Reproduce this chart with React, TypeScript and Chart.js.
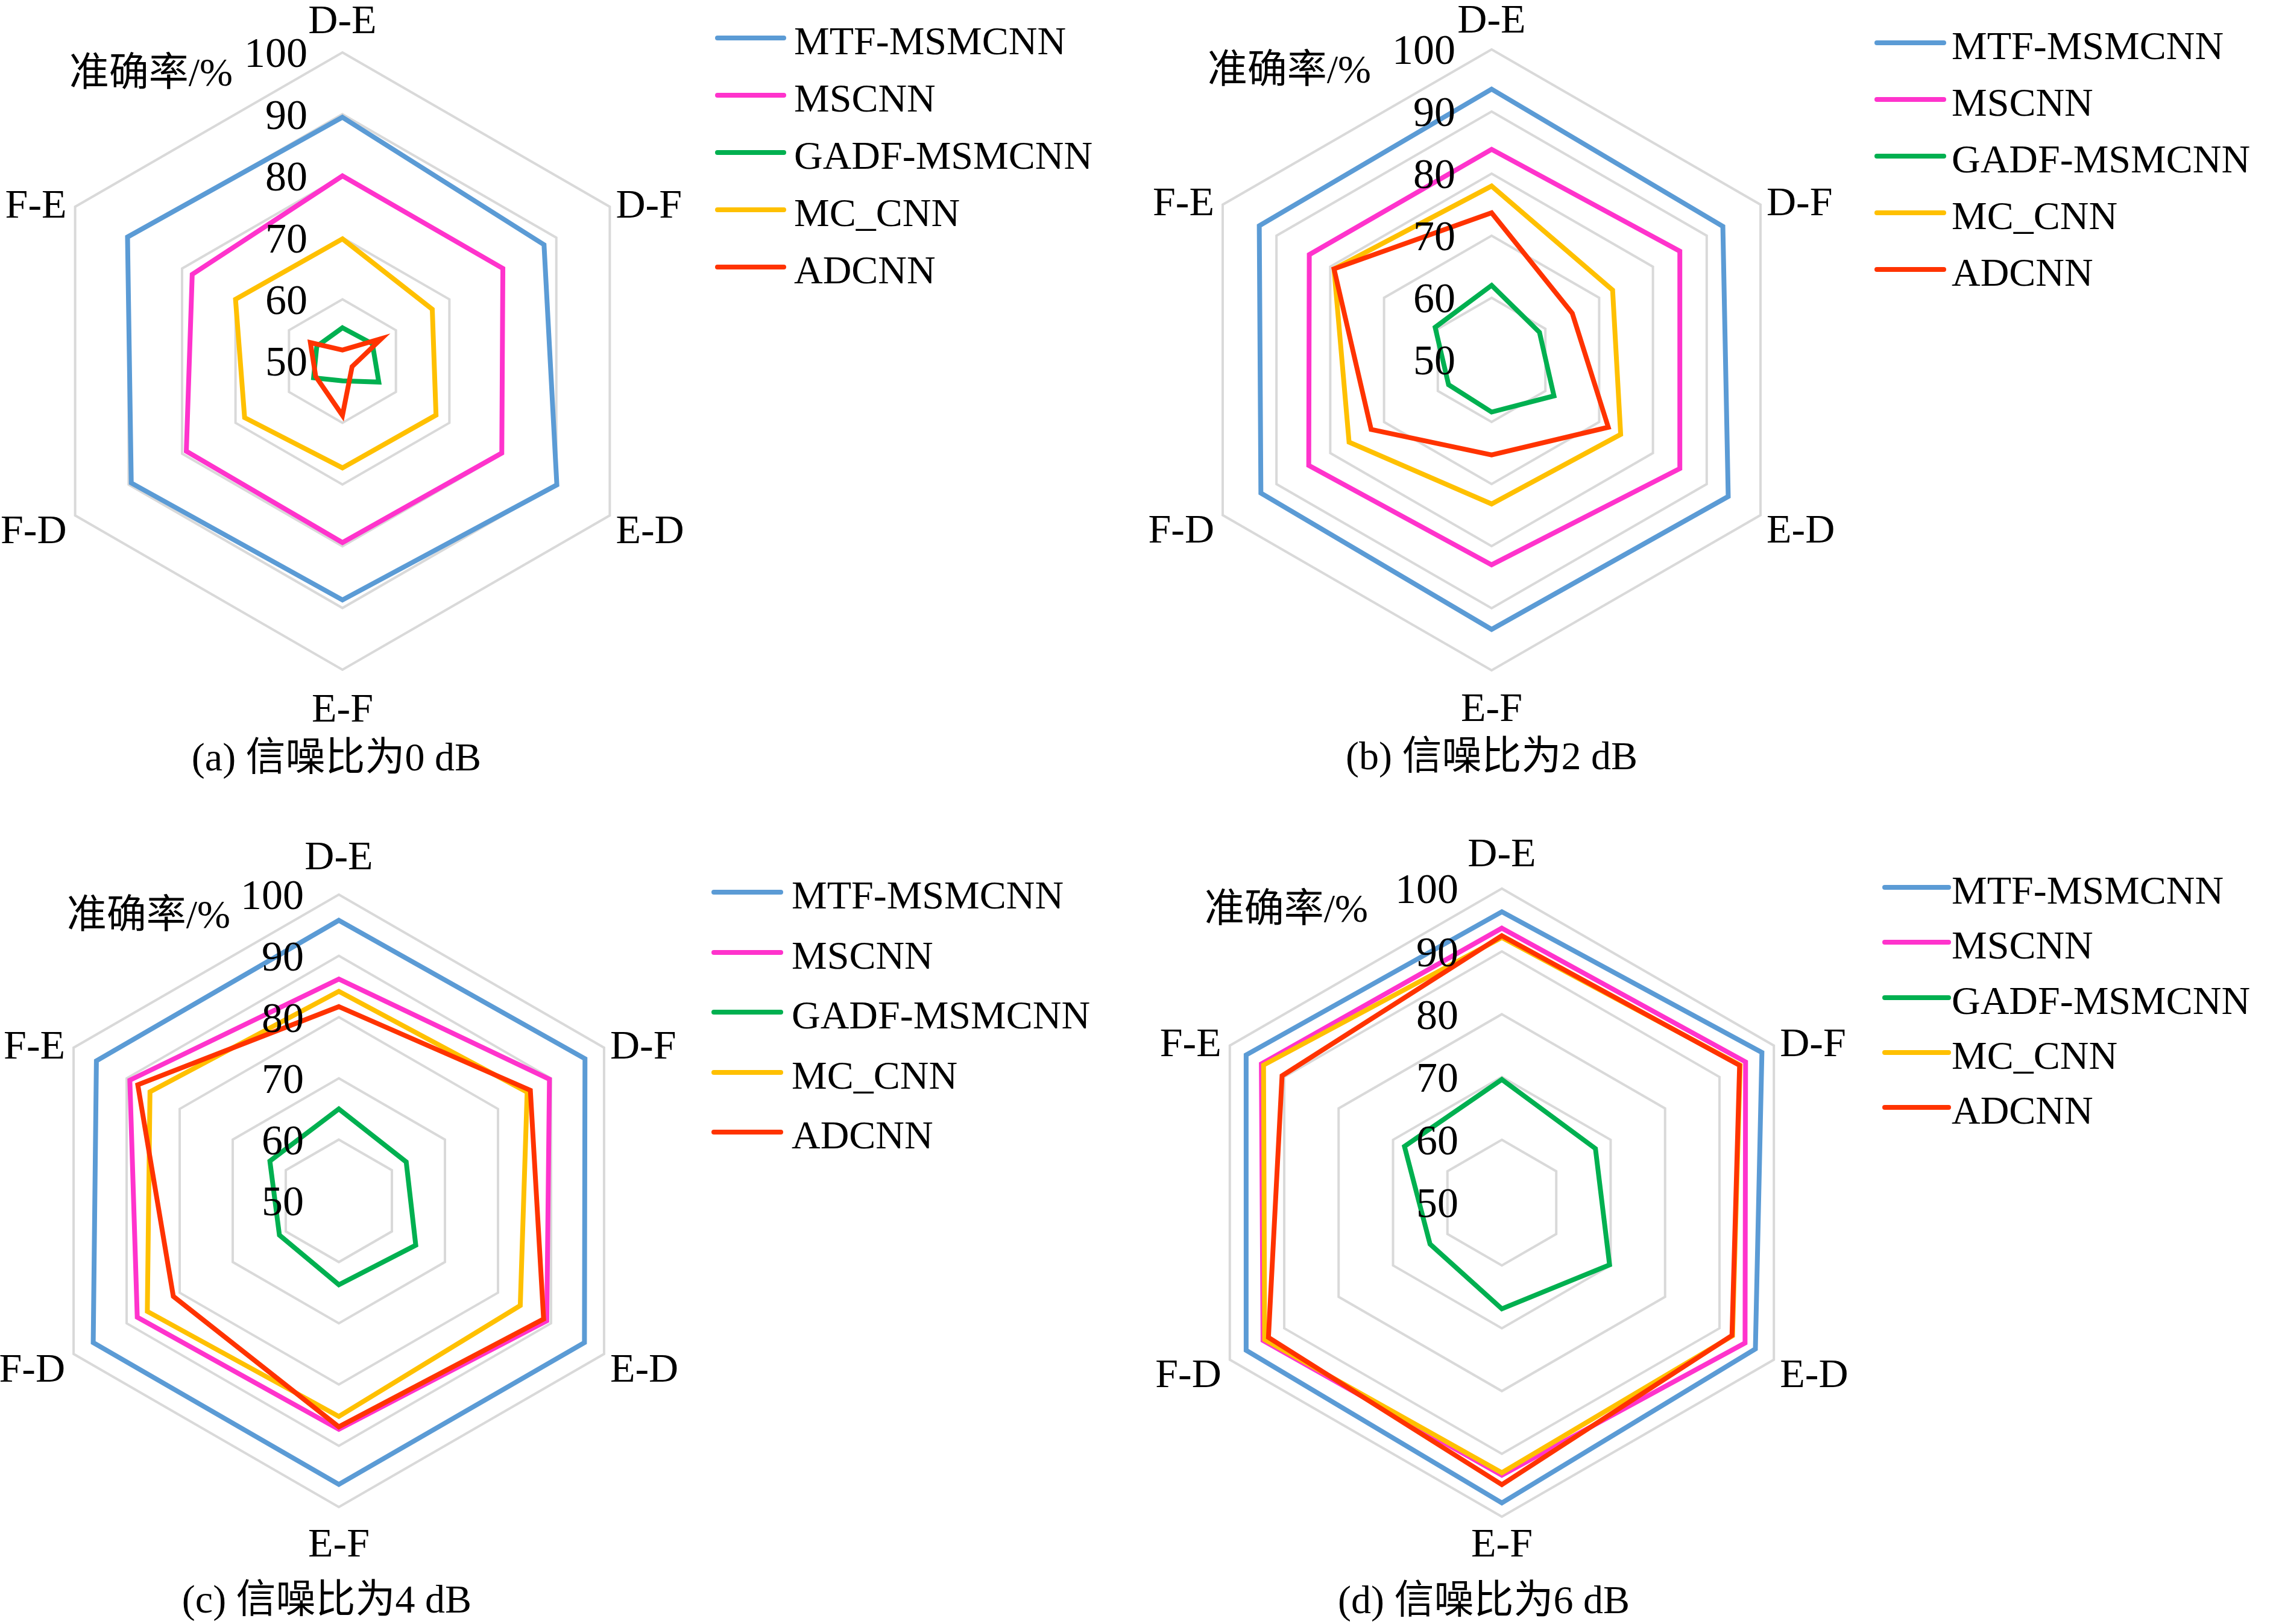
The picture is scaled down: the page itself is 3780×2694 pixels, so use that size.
import React, { useEffect, useRef } from "react";
import Chart from "chart.js/auto";

const axisLabels = ["D-E", "D-F", "E-D", "E-F", "F-D", "F-E"];
const seriesNames = ["MTF-MSMCNN", "MSCNN", "GADF-MSMCNN", "MC_CNN", "ADCNN"];
const tickValues = [50, 60, 70, 80, 90, 100];

// rows follow seriesNames, columns follow axisLabels
const snr0 = [
  [89.5, 87.7, 90.1, 88.7, 89.5, 90.2],
  [80, 80, 79.8, 79.4, 79.2, 78.1],
  [55.4, 55.6, 56.8, 53.2, 55.4, 54.8],
  [69.8, 66.8, 67.5, 67.3, 68.3, 70],
  [51.8, 57.3, 51.8, 58.8, 55, 56],
];
const snr2 = [
  [93.6, 93, 94, 93.4, 92.9, 93.2],
  [83.9, 85, 85, 83, 84, 83.9],
  [62, 58.9, 61.6, 58.4, 58, 60.5],
  [78, 72.5, 74, 73.2, 76.5, 79.3],
  [73.7, 65, 71.7, 65.3, 72.4, 79.3],
];
const snr4 = [
  [95.8, 96.4, 96.3, 96.3, 96.3, 95.7],
  [86.2, 89.7, 89.2, 87.3, 88, 89.4],
  [65, 62.7, 64.5, 63.7, 61.2, 63],
  [84.2, 85.5, 84.2, 85.2, 86.1, 85.6],
  [81.7, 86.1, 88.6, 86.9, 81.2, 87.9],
];
const snr6 = [
  [96.3, 97.8, 96.6, 97.8, 97, 97],
  [93.7, 94.8, 94.7, 93.4, 93.9, 94.2],
  [69.6, 67.2, 69.8, 66.9, 63.2, 67.9],
  [92.2, 93.8, 92.4, 93, 93.6, 93.8],
  [92.5, 93.7, 92.3, 94.9, 92.9, 90.4],
];

const COLORS = ["#5B9BD5", "#FF33CC", "#00B050", "#FFC000", "#FF3300"];
const GRID_COLOR = "#D9D9D9";
const SERIF = '"Liberation Serif", "Times New Roman", "Noto Sans CJK SC", serif';
const TICK_PX = 70;
const LABEL_PX = 68;
const PAD = 280;

const panels = [
  {
    id: "a", data: snr0, caption: "(a) 信噪比为0 dB",
    cx: 568, cy: 599, r: 512, topGap: 50, bottomGap: 68, captionY: 1256,
    tickGap: 58, titleGap: 182, captionDx: -10,
    legend: { x: 1186, y: 63, step: 95, w: 118, gap: 13 },
  },
  {
    id: "b", data: snr2, caption: "(b) 信噪比为2 dB",
    cx: 2474, cy: 597, r: 515, topGap: 46, bottomGap: 66, captionY: 1254,
    tickGap: 60, titleGap: 200, captionDx: 0,
    legend: { x: 3109, y: 71, step: 94, w: 119, gap: 9 },
  },
  {
    id: "c", data: snr4, caption: "(c) 信噪比为4 dB",
    cx: 562, cy: 1992, r: 508, topGap: 60, bottomGap: 64, captionY: 2653,
    tickGap: 58, titleGap: 180, captionDx: -20,
    legend: { x: 1180, y: 1480, step: 99.5, w: 119, gap: 14 },
  },
  {
    id: "d", data: snr6, caption: "(d) 信噪比为6 dB",
    cx: 2491, cy: 1995, r: 521, topGap: 55, bottomGap: 48, captionY: 2654,
    tickGap: 72, titleGap: 222, captionDx: -30,
    legend: { x: 3122, y: 1472, step: 91.3, w: 114, gap: 1 },
  },
];

type Panel = (typeof panels)[number];

function RadarPanel({ panel }: { panel: Panel }) {
  const canvasRef = useRef<HTMLCanvasElement | null>(null);
  const size = panel.r * 2 + PAD * 2;

  useEffect(() => {
    const canvas = canvasRef.current;
    if (!canvas) return;

    // axis names, tick numbers and the y title, placed off the scale itself
    const textPlugin = {
      id: "radarText",
      afterDraw(chart: any) {
        const scale = chart.scales.r;
        const ctx = chart.ctx;
        const R = scale.drawingArea;
        ctx.save();
        ctx.fillStyle = "#000";
        ctx.textBaseline = "middle";

        ctx.font = `${TICK_PX}px ${SERIF}`;
        ctx.textAlign = "right";
        tickValues.forEach((v) => {
          const d = scale.getDistanceFromCenterForValue(v);
          ctx.fillText(String(v), scale.xCenter - panel.tickGap, scale.yCenter - d + 6);
        });
        ctx.font = `${LABEL_PX - 2}px ${SERIF}`;
        ctx.fillText("准确率/%", scale.xCenter - panel.titleGap, scale.yCenter - R + 38);

        ctx.font = `${LABEL_PX}px ${SERIF}`;
        axisLabels.forEach((label, i) => {
          const p = scale.getPointPosition(i, R);
          const dx = p.x - scale.xCenter;
          const dy = p.y - scale.yCenter;
          if (Math.abs(dx) < 2) {
            ctx.textAlign = "center";
            const y = dy < 0 ? p.y - panel.topGap : p.y + panel.bottomGap;
            ctx.fillText(label, p.x, y);
          } else {
            ctx.textAlign = dx > 0 ? "left" : "right";
            const x = dx > 0 ? p.x + 10 : p.x - 14;
            const y = dy < 0 ? p.y : p.y + 28;
            ctx.fillText(label, x, y);
          }
        });
        ctx.restore();
      },
    };

    const chart = new Chart(canvas, {
      type: "radar",
      data: {
        labels: axisLabels,
        datasets: seriesNames.map((name, i) => ({
          label: name,
          data: panel.data[i],
          borderColor: COLORS[i],
          backgroundColor: "transparent",
          borderWidth: 8,
          pointRadius: 0,
          pointHoverRadius: 0,
          fill: false,
          order: seriesNames.length - i,
        })),
      },
      options: {
        responsive: false,
        animation: false,
        devicePixelRatio: 1,
        layout: { padding: PAD },
        plugins: { legend: { display: false }, tooltip: { enabled: false } },
        scales: {
          r: {
            min: 50,
            max: 100,
            startAngle: 0,
            angleLines: { display: false },
            grid: { color: GRID_COLOR, lineWidth: 4, circular: false },
            ticks: { display: false, stepSize: 10 },
            pointLabels: { display: false },
          },
        },
      },
      plugins: [textPlugin],
    });

    return () => {
      chart.destroy();
    };
  }, [panel]);

  return (
    <>
      <canvas
        ref={canvasRef}
        width={size}
        height={size}
        style={{
          position: "absolute",
          left: panel.cx - panel.r - PAD,
          top: panel.cy - panel.r - PAD,
          width: size,
          height: size,
        }}
      />
      {seriesNames.map((name, i) => (
        <div
          key={name}
          style={{
            position: "absolute",
            left: panel.legend.x,
            top: panel.legend.y + i * panel.legend.step - 40,
            height: 80,
            display: "flex",
            alignItems: "center",
            whiteSpace: "nowrap",
          }}
        >
          <div
            style={{
              width: panel.legend.w,
              height: 8,
              background: COLORS[i],
              borderRadius: 4,
            }}
          />
          <span
            style={{
              marginLeft: panel.legend.gap,
              fontSize: 66,
              lineHeight: "66px",
              transform: "translateY(5px)",
            }}
          >
            {name}
          </span>
        </div>
      ))}
      <div
        style={{
          position: "absolute",
          left: panel.cx + panel.captionDx - 600,
          width: 1200,
          top: panel.captionY - 40,
          height: 80,
          lineHeight: "80px",
          textAlign: "center",
          fontSize: 66,
          whiteSpace: "nowrap",
        }}
      >
        {panel.caption}
      </div>
    </>
  );
}

export default function App() {
  return (
    <div
      style={{
        position: "absolute",
        left: 0,
        top: 0,
        width: 3780,
        height: 2694,
        overflow: "hidden",
        background: "#fff",
        color: "#000",
        fontFamily: SERIF,
      }}
    >
      {panels.map((p) => (
        <RadarPanel key={p.id} panel={p} />
      ))}
    </div>
  );
}
